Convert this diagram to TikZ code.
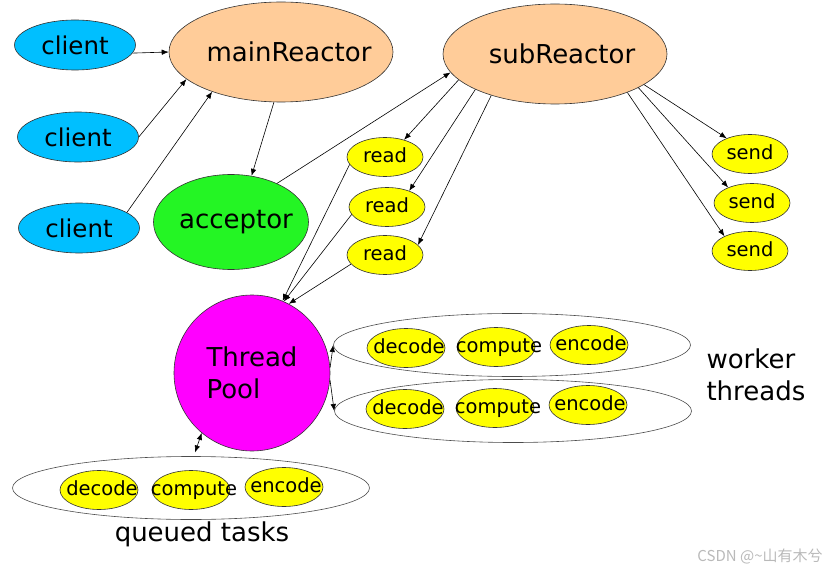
\documentclass[tikz,border=0pt]{standalone}
\usepackage{fontspec}
\setmainfont{DejaVu Sans}
\newfontfamily\cjk{Noto Sans CJK SC}
\usetikzlibrary{shapes.geometric,arrows.meta}
\definecolor{clientblue}{RGB}{0,191,255}
\definecolor{peach}{RGB}{255,204,153}
\definecolor{accgreen}{RGB}{36,245,36}
\definecolor{poolpink}{RGB}{255,0,255}
\definecolor{taskyellow}{RGB}{255,255,0}
\newcommand{\largetxt}{\fontsize{26}{32}\selectfont}
\newcommand{\clienttxt}{\fontsize{24.5}{29}\selectfont}
\newcommand{\smalltxt}{\fontsize{19.5}{23}\selectfont}
\newcommand{\lbl}[1]{\makebox[0pt]{#1}}
\newcommand{\tlbl}[1]{\makebox[0pt]{#1\vphantom{dp}}}

\begin{document}
\begin{tikzpicture}[x=1pt,y=-1pt,>={Latex[length=7pt,width=5.5pt]},
    blob/.style={ellipse,draw=black!80,line width=0.6pt,inner sep=0pt},
    client/.style={blob,fill=clientblue,minimum width=121pt,minimum height=50pt,font=\clienttxt},
    reactor/.style={blob,fill=peach,minimum width=224pt,minimum height=100pt,font=\largetxt},
    io/.style={blob,fill=taskyellow,minimum width=76pt,minimum height=39pt,font=\smalltxt},
    task/.style={blob,fill=taskyellow,minimum width=78pt,minimum height=39pt,font=\smalltxt},
    group/.style={ellipse,draw=black!70,line width=0.6pt,minimum width=357pt,minimum height=63pt},
    link/.style={->,line width=0.6pt}]
  \useasboundingbox (0,0) rectangle (835,572);

  \node[client] (c1) at (75,45) {\lbl{client}};
  \node[client] (c2) at (78,137) {\lbl{client}};
  \node[client] (c3) at (79,228) {\lbl{client}};
  \node[reactor] (main) at (281,52) {\lbl{\hspace{16pt}mainReactor}};
  \node[reactor] (sub) at (555,54) {\lbl{\hspace{14pt}subReactor}};
  \node[blob,fill=accgreen,minimum width=155pt,minimum height=95pt,font=\largetxt] (acc) at (231,222) {\lbl{\hspace{10pt}acceptor}};
  \node[io] (r1) at (385,157) {\tlbl{read}};
  \node[io] (r2) at (387,207) {\tlbl{read}};
  \node[io] (r3) at (385,255) {\tlbl{read}};
  \node[io] (s1) at (750,154) {\tlbl{send}};
  \node[io] (s2) at (752,203) {\tlbl{send}};
  \node[io] (s3) at (750,251) {\tlbl{send}};
  \node[circle,draw=black!80,line width=0.6pt,fill=poolpink,minimum size=156pt,inner sep=0pt,align=left,font=\largetxt] (pool) at (252,373) {Thread\\Pool};

  \node[group] (w1) at (512,345) {};
  \node[group] (w2) at (513,411) {};
  \node[group] (qt) at (191,488) {};
  \node[task] (w1d) at (406,348) {\tlbl{\hspace{6pt}decode}};
  \node[task] (w1c) at (496,347) {\tlbl{\hspace{6pt}compute}};
  \node[task] (w1e) at (589,345) {\tlbl{\hspace{4pt}encode}};
  \node[task] (w2d) at (405,409) {\tlbl{\hspace{6pt}decode}};
  \node[task] (w2c) at (495,408) {\tlbl{\hspace{6pt}compute}};
  \node[task] (w2e) at (588,405) {\tlbl{\hspace{4pt}encode}};
  \node[task] (qd) at (99,490) {\tlbl{\hspace{6pt}decode}};
  \node[task] (qc) at (191,490) {\tlbl{\hspace{6pt}compute}};
  \node[task] (qe) at (284,487) {\tlbl{\hspace{4pt}encode}};

  \node[font=\largetxt,align=left,anchor=west] (wt) at (703,375) {worker\\threads};
  \node[font=\largetxt] (ql) at (202,534) {queued tasks};
  \node[font=\cjk\fontsize{15}{17}\selectfont,text=gray!55] (mark) at (760,556) {CSDN @\textasciitilde 山有木兮};

  \draw[link] (c1.-8) -- (main.180);
  \draw[link] (c2.0) -- (main.196);
  \draw[link] (c3.18) -- (main.210);
  \draw[link] (main.262) -- (acc.66);
  \draw[link] (acc.40) -- (sub.190);
  \draw[link] (sub.195) -- (r1.42);
  \draw[link] (sub.204) -- (r2.36);
  \draw[link] (sub.213) -- (r3.17);
  \draw[link] (sub.-19) -- (s1.146);
  \draw[link] (sub.-22) -- (s2.147);
  \draw[link] (sub.-28) -- (s3.150);
  \draw[link] (r1.192) -- (pool.67);
  \draw[link] (r2.192) -- (pool.66);
  \draw[link] (r3.195) -- (pool.62);
  \draw[link] (pool.4) -- (w1.180);
  \draw[link] (pool.-5) -- (w2.180);
  \draw[<->,line width=0.6pt,shorten >=4pt] (pool.230) -- (qt.85);
\end{tikzpicture}
\end{document}
